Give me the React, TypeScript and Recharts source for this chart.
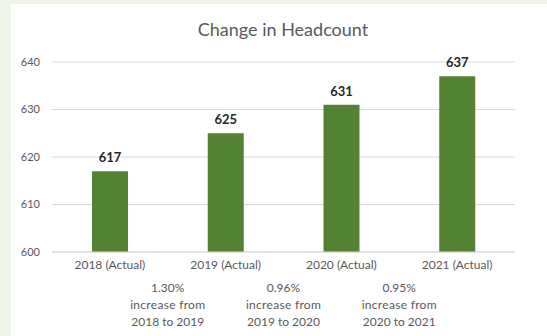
import { Bar, BarChart, CartesianGrid, LabelList, XAxis, YAxis } from 'recharts';

const years = ['2018 (Actual)', '2019 (Actual)', '2020 (Actual)', '2021 (Actual)'];
const headcount = [617, 625, 631, 637];
const yTicks = [600, 610, 620, 630, 640];
const changePct = ['1.30%', '0.96%', '0.95%'];
const changeText = ['increase from', 'increase from', 'increase from'];
const changeRange = ['2018 to 2019', '2019 to 2020', '2020 to 2021'];
const gapTicks = [1, 2, 3];

const data = years.map((year, i) => ({ year, value: headcount[i], pos: i + 0.5 }));

const FONT = 'Lato, "Open Sans", sans-serif';
const GREY = '#595959';

// annotation between two bars, three stacked lines
const GapTick = (props: any) => {
  const { x, y, index } = props;
  return (
    <text x={x} y={y} textAnchor='middle' fill={GREY} fontSize={12} fontFamily={FONT}>
      <tspan x={x} dy={10}>{changePct[index]}</tspan>
      <tspan x={x} dy={17} letterSpacing={0.3}>{changeText[index]}</tspan>
      <tspan x={x} dy={17}>{changeRange[index]}</tspan>
    </text>
  );
};

const App = () => {
  return (
    <div
      style={{
        position: 'fixed',
        left: 0,
        top: 0,
        width: 547,
        height: 336,
        background: '#eef4ea',
        fontFamily: FONT,
      }}
    >
      <div
        style={{
          position: 'absolute',
          left: 11,
          top: 4,
          width: 536,
          height: 332,
          background: '#ffffff',
        }}
      />
      <div
        style={{
          position: 'absolute',
          left: 0,
          top: 18,
          width: 566,
          textAlign: 'center',
          fontSize: 18,
          color: GREY,
          fontFamily: FONT,
        }}
      >
        Change in Headcount
      </div>
      <div style={{ position: 'absolute', left: 0, top: 0 }}>
        <BarChart
          width={547}
          height={336}
          data={data}
          margin={{ top: 62, right: 32, bottom: 6, left: 0 }}
          barSize={36}
        >
          <CartesianGrid vertical={false} stroke='#d9d9d9' />
          <YAxis
            domain={[600, 640]}
            ticks={yTicks}
            width={52}
            axisLine={false}
            tickLine={false}
            tickMargin={6}
            tick={{ fill: GREY, fontSize: 11, fontFamily: FONT }}
          />
          <XAxis
            dataKey='year'
            height={22}
            axisLine={{ stroke: '#d9d9d9' }}
            tickLine={false}
            tick={{ fill: GREY, fontSize: 12, fontFamily: FONT }}
          />
          <XAxis
            xAxisId='gap'
            dataKey='pos'
            type='number'
            domain={[0, 4]}
            ticks={gapTicks}
            height={56}
            axisLine={false}
            tickLine={false}
            tick={<GapTick />}
          />
          <Bar dataKey='value' fill='#548235' isAnimationActive={false}>
            <LabelList
              dataKey='value'
              position='top'
              offset={9}
              fill='#262626'
              fontSize={13}
              fontWeight='bold'
              fontFamily={FONT}
            />
          </Bar>
        </BarChart>
      </div>
    </div>
  );
};

export default App;
